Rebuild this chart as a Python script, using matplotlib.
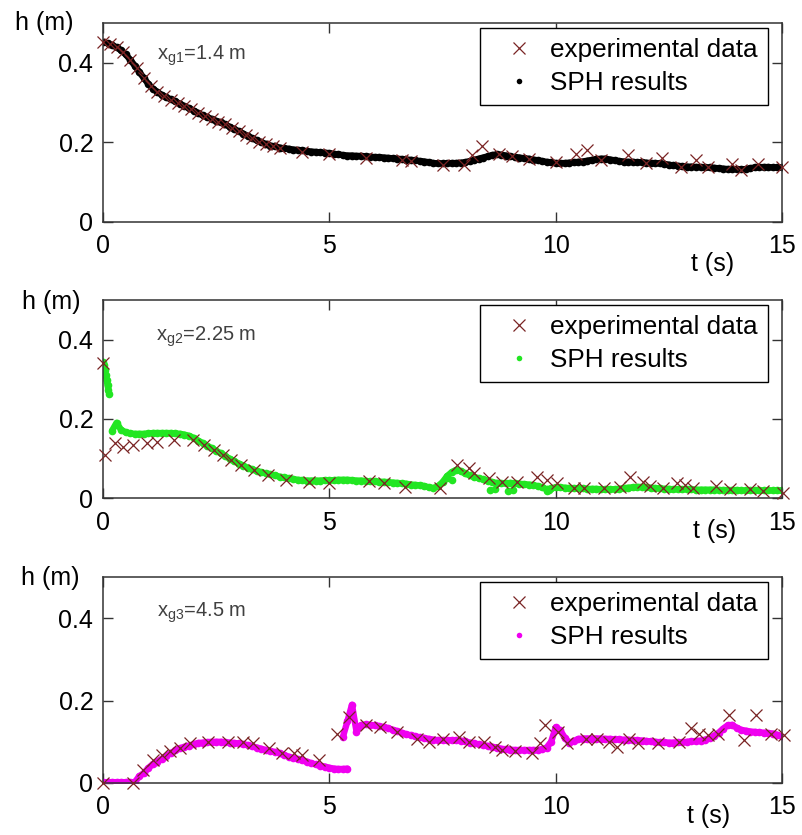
import numpy as np
import matplotlib
matplotlib.use("Agg")
import matplotlib.pyplot as plt
from matplotlib.lines import Line2D

plt.rcParams['font.family'] = ['Liberation Sans', 'DejaVu Sans']
plt.rcParams['mathtext.fontset'] = 'custom'
plt.rcParams['mathtext.rm'] = 'Liberation Sans'

# ---------------- data ----------------
# Gauge 1 (x = 1.4 m)
exp1_t = [0, 0.15, 0.3, 0.45, 0.6, 0.75, 0.9, 1.05, 1.2, 1.35, 1.5, 1.65, 1.8, 1.95, 2.1,
          2.25, 2.4, 2.55, 2.7, 2.85, 3.0, 3.15, 3.3, 3.45, 3.6, 3.75, 3.9, 4.4, 5.0, 5.8,
          6.6, 6.8, 7.5, 7.98, 8.16, 8.38, 8.75, 9.04, 9.41, 10.0, 10.45, 10.7, 11.0, 11.6,
          12.0, 12.34, 12.77, 13.1, 13.36, 13.9, 14.1, 14.46, 15.0]
exp1_h = [.452, .447, .44, .426, .408, .386, .362, .341, .327, .316, .307, .3, .291, .283, .274,
          .266, .259, .252, .245, .236, .228, .219, .21, .202, .195, .19, .186, .176, .172, .16,
          .155, .153, .1425, .1425, .1675, .19, .17, .165, .159, .151, .17, .182, .156, .1675,
          .148, .161, .139, .157, .139, .145, .130, .145, .137]

sph1_t0, sph1_dt = 0.0, 0.1
sph1_h = [.452, .449, .444, .439, .431, .421, .408, .393, .377, .362,
          .347, .335, .327, .319, .313, .308, .303, .297, .291, .286,
          .280, .274, .268, .263, .259, .254, .250, .245, .239, .233,
          .228, .222, .216, .210, .205, .200, .196, .192, .190, .187,
          .185, .184, .182, .181, .180, .178, .177, .176, .175, .174,
          .173, .171, .170, .168, .167, .167, .166, .166, .165, .164,
          .163, .163, .162, .161, .160, .159, .158, .157, .156, .155,
          .153, .152, .150, .148, .147, .147, .147, .148, .148, .149,
          .150, .153, .156, .159, .162, .165, .168, .170, .169, .167,
          .165, .163, .162, .160, .159, .157, .155, .153, .151, .150,
          .148, .148, .148, .149, .150, .151, .152, .154, .156, .158,
          .159, .159, .157, .155, .153, .152, .151, .151, .150, .150,
          .149, .148, .148, .147, .146, .144, .142, .141, .140, .139,
          .139, .138, .138, .137, .137, .136, .135, .134, .133, .133,
          .132, .132, .133, .135, .137, .138, .138, .138, .137, .137,
          .137]

# Gauge 2 (x = 2.25 m)
exp2_t = [0.0, 0.04, 0.27, 0.45, 0.66, 0.98, 1.2, 1.57, 1.98, 2.24, 2.46, 2.64, 2.82, 3.05,
          3.34, 3.64, 4.04, 4.55, 5.0, 5.88, 6.2, 6.68, 7.45, 7.82, 8.08, 8.19, 8.52, 8.82,
          9.15, 9.59, 9.81, 10.03, 10.4, 10.62, 11.06, 11.43, 11.65, 11.94, 12.09, 12.38,
          12.68, 12.86, 13.04, 13.55, 13.85, 14.29, 14.58, 15.03]
exp2_h = [.342, .109, .138, .13, .134, .138, .142, .146, .146, .134, .121, .109, .096, .084,
          .071, .058, .046, .041, .037, .042, .037, .029, .0245, .083, .075, .062, .05, .041,
          .041, .054, .046, .037, .0245, .024, .024, .029, .054, .041, .03, .026,
          .037, .034, .026, .03, .022, .022, .017, .013]

sph2_start_t = [0, 0.02, 0.04, 0.06, 0.08, 0.10, 0.12, 0.14]
sph2_start_h = [0.344, 0.335, 0.322, 0.31, 0.298, 0.285, 0.272, 0.262]
sph2_t0, sph2_dt = 0.2, 0.1
sph2_h = [.170, .190, .172, .166, .163, .162, .162, .162,
          .163, .164, .164, .164, .164, .164, .163, .162, .160, .157,
          .152, .145, .139, .132, .126, .119, .113, .106, .099, .093,
          .087, .082, .076, .072, .068, .065, .062, .060, .057, .054,
          .052, .050, .048, .046, .045, .044, .044, .044, .044, .045,
          .045, .045, .046, .046, .046, .045, .044, .044, .043, .042,
          .042, .041, .041, .040, .039, .038, .037, .036, .034, .033,
          .032, .030, .027, .025, .030, .040, .055, .065, .071, .068,
          .062, .057, .053, .050, .047, .044, .040, .038, .037, .037,
          .038, .037, .036, .035, .034, .033, .030, .027, .022, .024,
          .027, .027, .026, .025, .025, .024, .024, .023, .023, .023,
          .022, .022, .022, .022, .023, .025, .026, .027, .028, .028,
          .027, .026, .025, .024, .023, .023, .022, .022, .022, .022,
          .022, .021, .021, .021, .021, .021, .020, .020, .020, .020,
          .020, .019, .019, .019, .019, .019, .019, .019, .019, .019,
          .019]
sph2_extra_t = [7.6, 7.7, 8.55, 8.65, 8.95, 9.05, 9.8, 9.85]
sph2_extra_h = [0.05, 0.045, 0.020, 0.022, 0.018, 0.020, 0.017, 0.020]

# Gauge 3 (x = 4.5 m)
exp3_t = [0.0, 0.67, 0.89, 1.11, 1.3, 1.48, 1.7, 1.92, 2.33, 2.77, 3.1, 3.32, 3.66, 3.95,
          4.21, 4.4, 4.77, 5.18, 5.43, 5.8, 6.13, 6.5, 6.94, 7.2, 7.5, 7.86, 8.08, 8.41,
          8.67, 8.82, 9.11, 9.48, 9.66, 9.77, 10.06, 10.26, 10.66, 10.92, 11.18, 11.36,
          11.62, 11.81, 12.25, 12.73, 12.99, 13.17, 13.36, 13.58, 13.84, 14.17, 14.42,
          14.76, 15.05]
exp3_h = [0, 0, .032, .056, .068, .078, .084, .096, .1, .1, .1, .096, .084, .072,
          .072, .068, .056, .12, .161, .141, .137, .125, .108, .1, .108, .112, .1, .1,
          .088, .08, .077, .073, .096, .141, .125, .096, .108, .108, .1, .088,
          .108, .096, .096, .1, .133, .12, .116, .12, .165, .104, .165,
          .12, .116]

sph3a_t0, sph3a_dt = 0.0, 0.1
sph3a_h = [.002, .002, .002, .002, .002, .002, .002, .002, .016, .024,
           .036, .046, .052, .059, .066, .073, .079, .084, .088, .091,
           .094, .097, .098, .099, .100, .100, .100, .099, .098, .097,
           .096, .094, .092, .089, .086, .083, .080, .078, .075, .072,
           .068, .064, .061, .058, .055, .052, .048, .045, .042, .040,
           .037, .035, .034, .034, .035]
sph3b_t0, sph3b_dt = 5.3, 0.1
sph3b_h = [.112, .150, .190, .125, .140, .142, .141,
           .140, .138, .136, .133, .129, .126, .122, .118, .116, .113,
           .111, .109, .107, .105, .104, .104, .104, .104, .104, .103,
           .101, .098, .096, .094, .092, .090, .088, .086, .083, .082,
           .081, .080, .080, .080, .080, .080, .080, .082, .086, .100,
           .135, .128, .110, .098, .102, .107, .108, .108, .108, .108,
           .108, .107, .107, .106, .106, .105, .105, .104, .104, .103,
           .102, .101, .100, .099, .099, .098, .098, .099, .099, .100,
           .101, .102, .103, .105, .109, .115, .122, .132, .140, .141,
           .134, .129, .127, .125, .124, .123, .122, .121, .120, .117,
           .113]

gauge_labels = ['1', '2', '3']
gauge_pos = ['1.4', '2.25', '4.5']
x_ticks = [0, 5, 10, 15]
y_ticks = [0, 0.2, 0.4]
y_tick_labels = ['0', '0.2', '0.4']


def grid_t(t0, dt, vals):
    return np.round(t0 + dt * np.arange(len(vals)), 3)


sph_colors = ['black', '#22e622', '#f000f0']
exp_color = '#7a2424'

# (t, h, join_with_line)
series = [
    ([(grid_t(sph1_t0, sph1_dt, sph1_h), sph1_h, True)], exp1_t, exp1_h),
    ([(sph2_start_t, sph2_start_h, True), (grid_t(sph2_t0, sph2_dt, sph2_h), sph2_h, True),
      (sph2_extra_t, sph2_extra_h, False)], exp2_t, exp2_h),
    ([(grid_t(sph3a_t0, sph3a_dt, sph3a_h), sph3a_h, True),
      (grid_t(sph3b_t0, sph3b_dt, sph3b_h), sph3b_h, True)], exp3_t, exp3_h),
]

# ---------------- figure ----------------
W, H = 802, 835
fig = plt.figure(figsize=(W / 100, H / 100), dpi=100)

# axes boxes in pixels: (left, top, right, bottom)
boxes = [(103, 23, 782, 222), (103, 300, 782, 498), (103, 577, 782, 783)]
ylab_pos = [(15, 23), (22, 302), (21, 578)]
tlab_pos = [(713, 264), (715, 531), (709, 816)]
ann_pos = [(0.0795, 0.815), (0.078, 0.795), (0.079, 0.805)]
spine_col = '#333333'

for i, (sph_parts, et, eh) in enumerate(series):
    l, t, r, b = boxes[i]
    ax = fig.add_axes([l / W, 1 - b / H, (r - l) / W, (b - t) / H])
    for st, sh, join in sph_parts:
        if join:
            ax.plot(st, sh, linestyle='-', lw=4.6, color=sph_colors[i], zorder=2,
                    solid_capstyle='round')
        ax.plot(st, sh, linestyle='none', marker='o', ms=5.5, mew=0,
                color=sph_colors[i], zorder=2)
    ax.plot(et, eh, linestyle='none', marker='x', ms=8, mew=0.9,
            color=exp_color, zorder=3, clip_on=False)

    ax.set_xlim(0, 15)
    ax.set_ylim(0, 0.5)
    ax.set_xticks(x_ticks)
    ax.set_xticklabels([str(v) for v in x_ticks])
    ax.set_yticks(y_ticks)
    ax.set_yticklabels(y_tick_labels)
    ax.tick_params(direction='in', length=7, width=1.0, color=spine_col,
                   top=True, right=True, labelsize=18, pad=7)
    ax.tick_params(axis='x', pad=9)
    for s in ax.spines.values():
        s.set_color(spine_col)
        s.set_linewidth(1.1)

    ax.text(ann_pos[i][0], ann_pos[i][1],
            r'x$_{\mathregular{g' + gauge_labels[i] + r'}}$=' + gauge_pos[i] + ' m',
            transform=ax.transAxes, fontsize=14.5, color='#404040', va='baseline', ha='left')

    handles = [
        Line2D([], [], linestyle='none', marker='x', ms=9, mew=0.9, color=exp_color),
        Line2D([], [], linestyle='none', marker='o', ms=4, mew=0, color=sph_colors[i]),
    ]
    leg = ax.legend(handles, ['experimental data', 'SPH results'],
                    loc='upper right',
                    bbox_to_anchor=((768 - l) / (r - l), 1 - (28 - 23) / (b - t)),
                    borderaxespad=0, fontsize=18.8, frameon=True, fancybox=False,
                    edgecolor='black', framealpha=1, borderpad=0.38, labelspacing=0.36,
                    handlelength=2.2, handletextpad=0.1)
    leg.get_frame().set_linewidth(1.0)

    fig.text(ylab_pos[i][0] / W, 1 - ylab_pos[i][1] / H, 'h (m)', fontsize=18,
             ha='left', va='center')
    fig.text(tlab_pos[i][0] / W, 1 - tlab_pos[i][1] / H, 't (s)', fontsize=18,
             ha='center', va='center')

fig.savefig('out.png', dpi=100)
